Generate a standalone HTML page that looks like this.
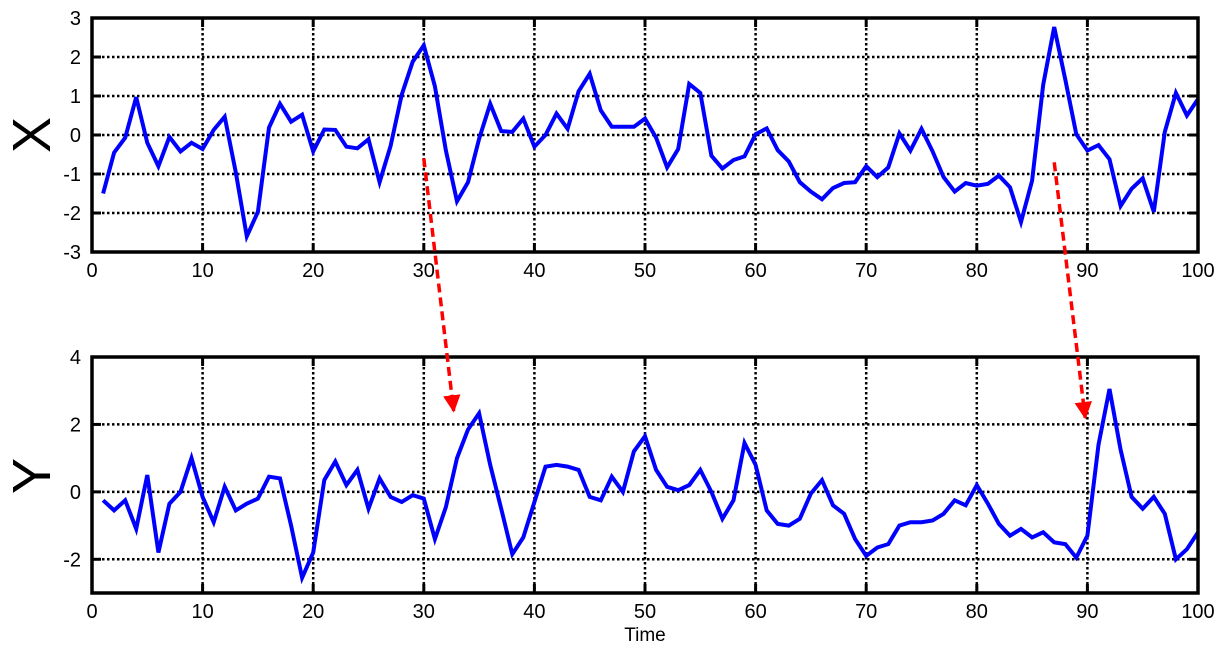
<!DOCTYPE html>
<html><head><meta charset="utf-8"><style>
html,body{margin:0;padding:0;background:#fff;}
svg{display:block;font-family:"Liberation Sans",Arial,sans-serif;}
</style></head><body>
<svg id="c" width="1225" height="655" viewBox="0 0 1225 655" xmlns="http://www.w3.org/2000/svg">
<defs><marker id="ah" viewBox="0 0 10 10" refX="9" refY="5" markerWidth="5" markerHeight="5" orient="auto"><path d="M0,0 L10,5 L0,10 z" fill="#f00"/></marker></defs>
<g id="top"></g>
<g id="bot"></g>
<text x="0" y="0" font-size="54" text-anchor="middle" dominant-baseline="central" transform="translate(32,135) rotate(-90)">X</text>
<text x="0" y="0" font-size="54" text-anchor="middle" dominant-baseline="central" transform="translate(32,476) rotate(-90)">Y</text>
<text x="645" y="641" font-size="19" text-anchor="middle">Time</text>
</svg>
<script>
const seriesX=[-1.5,-0.45,-0.07,0.97,-0.2,-0.8,-0.05,-0.42,-0.2,-0.36,0.13,0.47,-0.96,-2.6,-1.97,0.19,0.8,0.34,0.52,-0.42,0.14,0.13,-0.3,-0.34,-0.11,-1.21,-0.28,1.03,1.88,2.3,1.25,-0.4,-1.7,-1.21,-0.1,0.8,0.1,0.08,0.42,-0.3,0,0.55,0.16,1.12,1.57,0.63,0.21,0.21,0.21,0.42,-0.07,-0.83,-0.36,1.31,1.08,-0.53,-0.86,-0.64,-0.55,0.02,0.17,-0.39,-0.68,-1.21,-1.45,-1.65,-1.36,-1.23,-1.21,-0.8,-1.08,-0.83,0.04,-0.4,0.16,-0.42,-1.08,-1.45,-1.23,-1.3,-1.25,-1.04,-1.34,-2.23,-1.17,1.29,2.77,1.42,0.02,-0.4,-0.26,-0.62,-1.82,-1.38,-1.11,-1.97,0.08,1.08,0.5,0.92];
const seriesY=[-0.25,-0.55,-0.25,-1.1,0.5,-1.8,-0.35,0.0,1.0,-0.15,-0.9,0.15,-0.55,-0.35,-0.2,0.45,0.4,-1.0,-2.55,-1.8,0.35,0.9,0.2,0.65,-0.5,0.4,-0.15,-0.3,-0.1,-0.2,-1.4,-0.45,1.0,1.85,2.33,0.8,-0.5,-1.85,-1.35,-0.3,0.75,0.8,0.75,0.65,-0.15,-0.25,0.45,0.0,1.2,1.65,0.65,0.15,0.05,0.2,0.65,0.0,-0.8,-0.25,1.45,0.8,-0.55,-0.95,-1.0,-0.8,-0.05,0.35,-0.4,-0.65,-1.4,-1.9,-1.65,-1.55,-1.0,-0.9,-0.9,-0.85,-0.65,-0.25,-0.4,0.2,-0.35,-0.95,-1.3,-1.1,-1.35,-1.2,-1.5,-1.55,-1.95,-1.3,1.4,3.05,1.25,-0.15,-0.5,-0.15,-0.65,-2.0,-1.7,-1.2];
const xTicks=[0,10,20,30,40,50,60,70,80,90,100];
const topYTicks=[3,2,1,0,-1,-2,-3];
const botYTicks=[4,2,0,-2];
const arrowFrom=[[30,-0.6],[87,-0.7]];
const arrowTo=[[32.7,2.4],[89.8,2.2]];
const NS="http://www.w3.org/2000/svg";
function mk(p,t,a){const e=document.createElementNS(NS,t);for(const k in a)e.setAttribute(k,a[k]);p.appendChild(e);return e;}
const L=92,R=1198;
const sx=v=>L+(v-0)*(R-L)/100;
function panel(g,top,bot,ymin,ymax,yticks,gridVals,data,name){
  const sy=v=>bot-(v-ymin)*(bot-top)/(ymax-ymin);
  gridVals.forEach(v=>{const l=mk(g,'line',{x1:L,x2:R,y1:sy(v),y2:sy(v),stroke:'#000','stroke-width':2.5,'stroke-dasharray':'2.5,2.5'});
    
    });
  xTicks.slice(1,-1).forEach(v=>{const l=mk(g,'line',{x1:sx(v),x2:sx(v),y1:top,y2:bot,stroke:'#000','stroke-width':2.5,'stroke-dasharray':'2.5,2.5'});
    
    });
  yticks.forEach(v=>{mk(g,'line',{x1:L,x2:L+9,y1:sy(v),y2:sy(v),stroke:'#000','stroke-width':3});mk(g,'line',{x1:R-9,x2:R,y1:sy(v),y2:sy(v),stroke:'#000','stroke-width':3});
    const t=mk(g,'text',{x:L-11,y:sy(v)+7,'font-size':20,'text-anchor':'end'});t.textContent=v;
    
    });
  xTicks.forEach(v=>{mk(g,'line',{x1:sx(v),x2:sx(v),y1:bot-9,y2:bot,stroke:'#000','stroke-width':3});mk(g,'line',{x1:sx(v),x2:sx(v),y1:top,y2:top+9,stroke:'#000','stroke-width':3});
    const t=mk(g,'text',{x:sx(v),y:bot+25,'font-size':20,'text-anchor':'middle'});t.textContent=v;
    
    });
  const pts=data.map((v,i)=>sx(i+1).toFixed(1)+','+sy(v).toFixed(1)).join(' ');
  const pl=mk(g,'polyline',{points:pts,fill:'none',stroke:'#0000ff','stroke-width':4,'stroke-linejoin':'miter'});
  
  
  const fr=mk(g,'rect',{x:L,y:top,width:R-L,height:bot-top,fill:'none',stroke:'#000','stroke-width':3.5});
  
  
  return sy;
}
const syT=panel(document.getElementById('top'),18,252,-3,3,topYTicks,[2,1,0,-1,-2],seriesX,'x-panel');
const syB=panel(document.getElementById('bot'),357,593,-3,4,botYTicks,[2,0,-2],seriesY,'y-panel');
const svg=document.getElementById('c');
arrowFrom.forEach((f,i)=>{const t=arrowTo[i];
  const a=mk(svg,'line',{x1:sx(f[0]),y1:syT(f[1]),x2:sx(t[0]),y2:syB(t[1]),stroke:'#f00','stroke-width':3.5,'stroke-dasharray':'9,5','marker-end':'url(#ah)'});
  
  });
</script>
</body></html>
